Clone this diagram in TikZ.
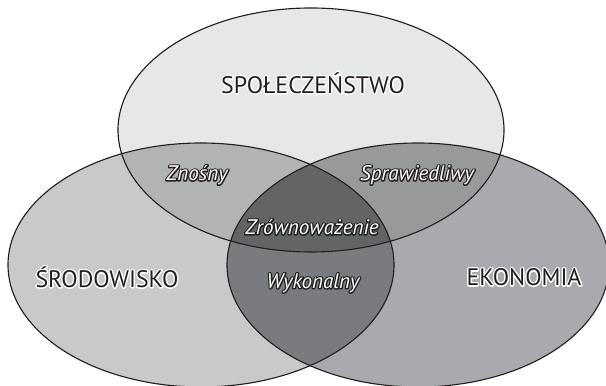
\documentclass[tikz,border=0pt]{standalone}
\usepackage{fontspec}
\setmainfont{PT Sans}
\usepackage{xcolor}
\usepackage{tikz}
\usetikzlibrary{positioning}

\definecolor{inkgray}{HTML}{231F20}
\definecolor{socfill}{HTML}{E6E7E8}
\definecolor{envfill}{HTML}{C8C9CB}
\definecolor{ecofill}{HTML}{A8AAAD}
\definecolor{socenv}{HTML}{B2B3B5}
\definecolor{soceco}{HTML}{97999B}
\definecolor{enveco}{HTML}{7A7B7E}
\definecolor{allfill}{HTML}{636466}

% the three circles of the diagram
\def\socpath{(7.775,6.4) ellipse (4.825 and 3.05)}
\def\envpath{(5.025,3.025) ellipse (4.825 and 3.05)}
\def\ecopath{(10.45,3.025) ellipse (4.775 and 3.05)}

% stroked copy under the text: #1 rgb of the rim, #2 rim width, #3 text colour, #4 text
\newcommand{\rimtext}[4]{%
  \makebox[0pt][l]{\special{pdf:literal direct #1 RG #1 rg #2 w 1 j 2 Tr}#4\special{pdf:literal direct 0 Tr}}%
  \textcolor{#3}{#4}}
\newcommand{\mainlabel}[1]{{\fontsize{17}{19}\selectfont\rimtext{1 1 1}{2}{inkgray}{#1}}}
\newcommand{\joinlabel}[1]{{\fontsize{15}{17}\selectfont\itshape\rimtext{0.137 0.122 0.125}{1.8}{white}{#1}}}

\begin{document}
\begin{tikzpicture}[every node/.style={align=center}]
  \useasboundingbox (0,0) rectangle (15.15,9.65);
  \clip (0,0) rectangle (15.15,9.65);

  % base fills
  \fill[socfill] \socpath;
  \fill[envfill] \envpath;
  \fill[ecofill] \ecopath;

  % overlaps
  \begin{scope}
    \clip \socpath;
    \fill[socenv] \envpath;
    \fill[soceco] \ecopath;
  \end{scope}
  \begin{scope}
    \clip \envpath;
    \fill[enveco] \ecopath;
  \end{scope}
  \begin{scope}
    \clip \socpath;
    \clip \envpath;
    \fill[allfill] \ecopath;
  \end{scope}

  % outlines
  \draw[inkgray, line width=0.8pt] \socpath;
  \draw[inkgray, line width=0.8pt] \envpath;
  \draw[inkgray, line width=0.8pt] \ecopath;

  % labels
  \node (society) at (7.825,7.575) {\mainlabel{SPOŁECZEŃSTWO}};
  \node (environment) at (2.675,2.725) {\mainlabel{ŚRODOWISKO}};
  \node (economy) at (13.1,2.725) {\mainlabel{EKONOMIA}};

  \node (bearable) at (4.925,5.275) {\joinlabel{Znośny}};
  \node (equitable) at (10.425,5.275) {\joinlabel{Sprawiedliwy}};
  \node (sustainable) at (7.8,3.975) {\joinlabel{Zrównoważenie}};
  \node (viable) at (7.825,2.575) {\joinlabel{Wykonalny}};
\end{tikzpicture}
\end{document}
